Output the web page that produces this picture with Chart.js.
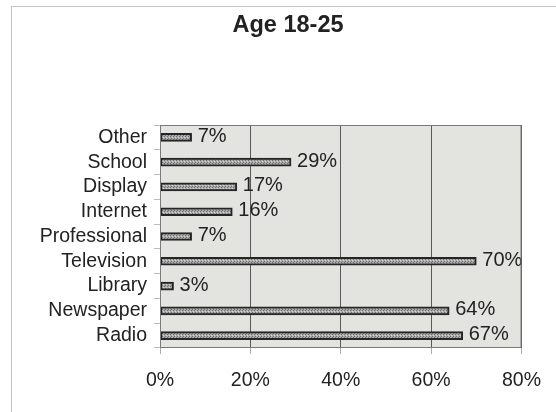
<!DOCTYPE html>
<html>
<head>
<meta charset="utf-8">
<script src="https://cdn.jsdelivr.net/npm/chart.js@4"></script>
<style>
    html, body { margin: 0; padding: 0; background: #fff; }
    #wrap { position: relative; width: 556px; height: 412px; overflow: hidden; }
    #frame { position: absolute; left: 11px; top: 6px; width: 600px; height: 500px;
             border-left: 1px solid #c4c4c4; border-top: 1px solid #c4c4c4; }
    #chartAge { position: absolute; left: 0; top: 0; }
</style>
</head>
<body>
<div id="wrap">
    <div id="frame"></div>
    <canvas id="chartAge" width="556" height="412"></canvas>
</div>
<script>
const chartTitle = 'Age 18-25';
const sources = ['Other', 'School', 'Display', 'Internet', 'Professional', 'Television', 'Library', 'Newspaper', 'Radio'];
const percents = [7, 29, 17, 16, 7, 70, 3, 64, 67];
const xTicks = [0, 20, 40, 60, 80];

const FONT = 'Liberation Sans, Arial, sans-serif';

// speckled grey fill for the bars
function barPattern() {
    const c = document.createElement('canvas');
    c.width = 3;
    c.height = 3;
    const g = c.getContext('2d');
    g.fillStyle = '#ababab';
    g.fillRect(0, 0, 3, 3);
    g.fillStyle = '#707070';
    g.fillRect(0, 0, 1, 1);
    g.fillRect(2, 1, 1, 1);
    g.fillStyle = '#d4d4d4';
    g.fillRect(1, 2, 1, 1);
    return g.createPattern(c, 'repeat');
}

// grey plot background + border, title centred on the whole chart object
const plotBox = {
    id: 'plotBox',
    beforeDraw(chart) {
        const a = chart.chartArea;
        const ctx = chart.ctx;
        ctx.save();
        ctx.fillStyle = '#e3e3e0';
        ctx.fillRect(a.left, a.top, a.right - a.left, a.bottom - a.top);
        ctx.restore();
    },
    afterDraw(chart) {
        const a = chart.chartArea;
        const ctx = chart.ctx;
        ctx.save();
        ctx.strokeStyle = '#7a7a7a';
        ctx.lineWidth = 1;
        ctx.strokeRect(a.left + 0.5, a.top + 0.5, a.right - a.left - 1, a.bottom - a.top - 1);

        ctx.font = 'bold 23.5px ' + FONT;
        ctx.fillStyle = '#222';
        ctx.textAlign = 'center';
        ctx.textBaseline = 'alphabetic';
        ctx.fillText(chartTitle, 288, 32);
        ctx.restore();
    }
};

// value text at the end of each bar
const valueLabels = {
    id: 'valueLabels',
    afterDatasetsDraw(chart) {
        const ctx = chart.ctx;
        const meta = chart.getDatasetMeta(0);
        ctx.save();
        ctx.font = '20px ' + FONT;
        ctx.fillStyle = '#222';
        ctx.textAlign = 'left';
        ctx.textBaseline = 'middle';
        meta.data.forEach((bar, i) => {
            ctx.fillText(percents[i] + '%', bar.x + 6, bar.y - 1);
        });
        ctx.restore();
    }
};

const data = {
    labels: sources,
    datasets: [{
        data: percents,
        backgroundColor: barPattern(),
        borderColor: '#252525',
        borderWidth: 2,
        borderSkipped: false,
        barThickness: 8
    }]
};

const config = {
    type: 'bar',
    data: data,
    options: {
        indexAxis: 'y',
        responsive: false,
        animation: false,
        layout: {
            padding: { left: 0, right: 34, top: 125, bottom: 4 }
        },
        plugins: {
            legend: { display: false },
            tooltip: { enabled: false },
            title: { display: false }
        },
        scales: {
            x: {
                min: 0,
                max: 80,
                afterBuildTicks: (scale) => {
                    scale.ticks = xTicks.map(v => ({ value: v }));
                },
                afterFit: (scale) => { scale.height = 60; },
                border: { display: false },
                grid: {
                    color: '#5a5a5a',
                    lineWidth: 1,
                    tickLength: 6,
                    tickColor: '#aaa'
                },
                ticks: {
                    color: '#222',
                    padding: 15,
                    font: { family: FONT, size: 19.5 },
                    callback: (v) => v + '%'
                }
            },
            y: {
                afterFit: (scale) => { scale.width = 160; },
                border: { display: false },
                grid: {
                    drawOnChartArea: false,
                    tickLength: 6,
                    tickColor: '#bbb'
                },
                ticks: {
                    autoSkip: false,
                    color: '#222',
                    padding: 7,
                    font: { family: FONT, size: 19.5 }
                }
            }
        }
    },
    plugins: [plotBox, valueLabels]
};

let ctx = document.getElementById('chartAge').getContext('2d');
new Chart(ctx, config);
</script>
</body>
</html>
